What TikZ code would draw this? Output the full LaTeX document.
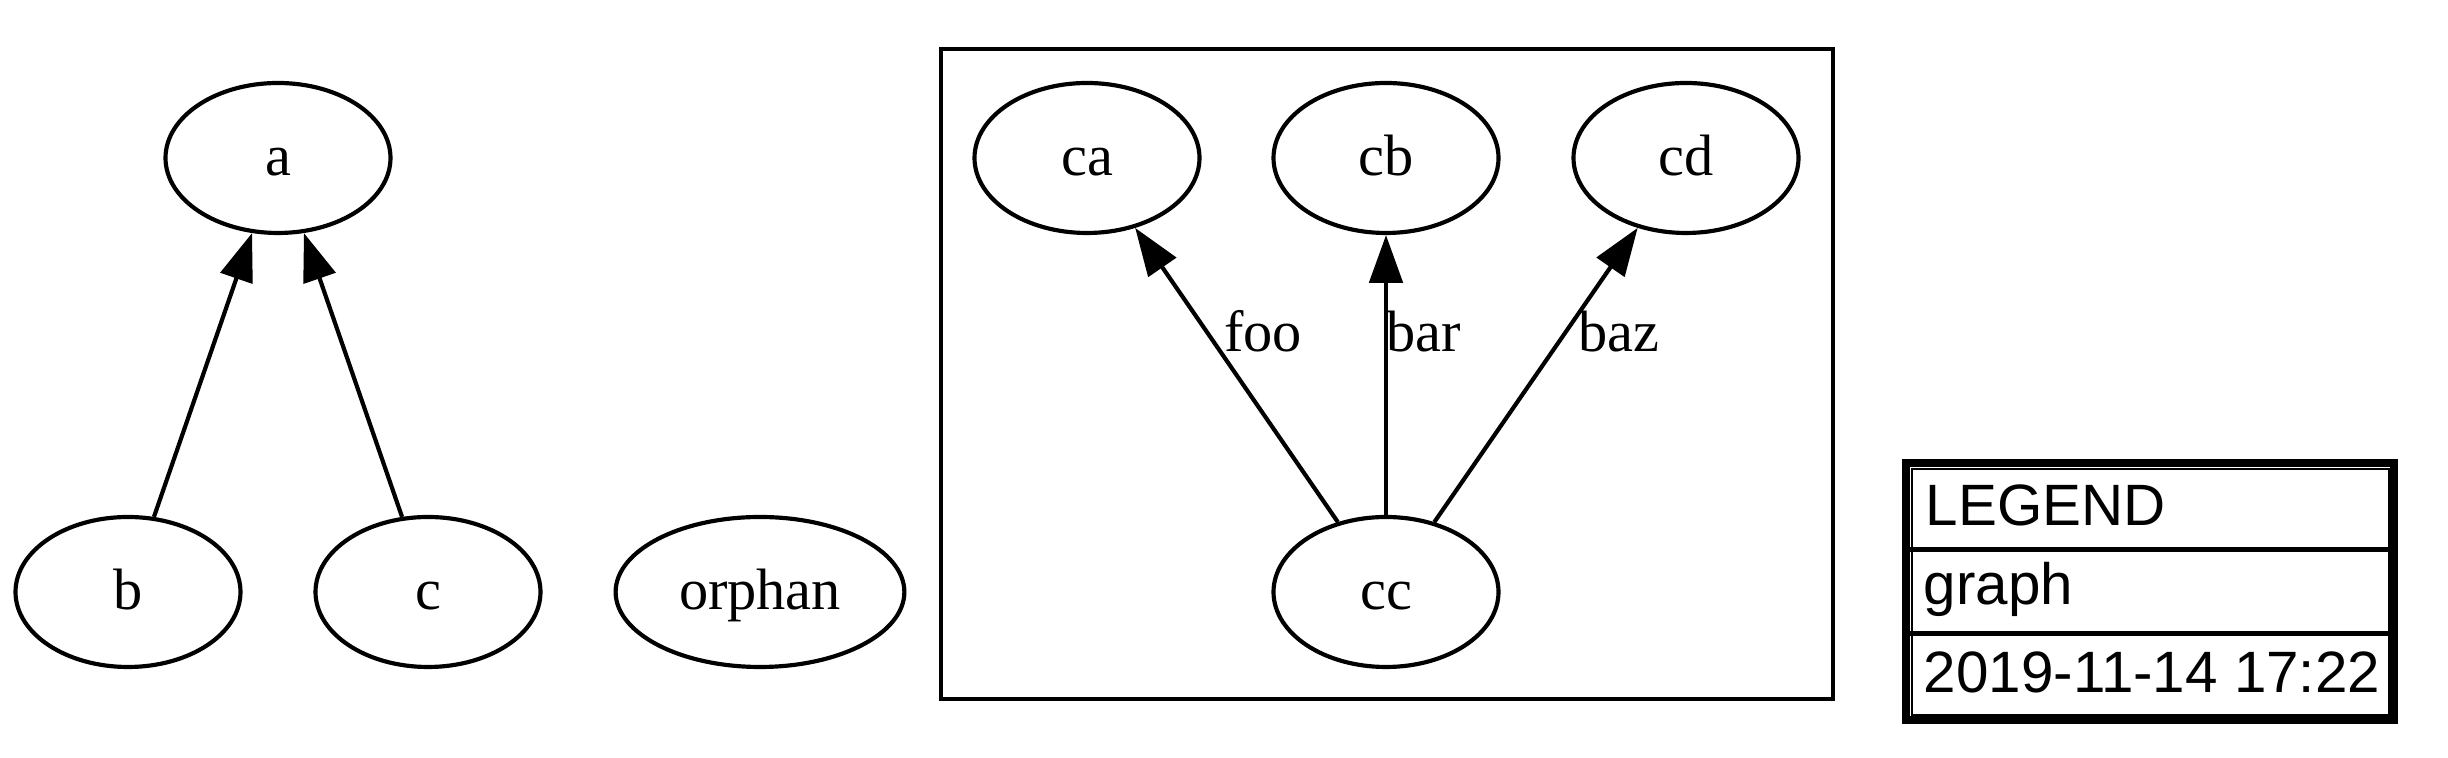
\documentclass[tikz,border=0pt]{standalone}
\usepackage{fontspec}
\setmainfont{Liberation Serif}
\newfontfamily\helv{Liberation Sans}
\usetikzlibrary{arrows.meta,shapes.geometric}
\begin{document}
\begin{tikzpicture}[x=0.24pt,y=-0.24pt,
  gnode/.style={draw, ellipse, line width=1pt, minimum width=54pt, minimum height=36pt,
    inner sep=0pt, text height=10.6pt, text depth=2pt, font=\fontsize{14}{16}\selectfont},
  gedge/.style={line width=1pt, -{Triangle[length=11.5pt,width=8pt]}},
  elabel/.style={font=\fontsize{14}{16}\selectfont, anchor=base, inner sep=0pt},
  legtext/.style={font=\helv\fontsize{14}{16}\selectfont, anchor=base west, inner sep=0pt},
  cluster/.style={draw, line width=1pt},
  legframe/.style={draw, line width=2.1pt},
  legcell/.style={draw, line width=0.35pt},
  legsep/.style={draw, line width=1.1pt}]
\useasboundingbox (0,0) rectangle (2448,758);
% left graph
\node[gnode] (a) at (278,158) {a};
\node[gnode] (b) at (128,592) {b};
\node[gnode] (c) at (428,592) {c};
\node[gnode, minimum width=69.3pt] (orphan) at (760,592) {orphan};
\draw[gedge] (b) -- (a);
\draw[gedge] (c) -- (a);
% cluster
\draw[cluster] (941,49) rectangle (1833,699);
\node[gnode] (ca) at (1087,158) {ca};
\node[gnode] (cb) at (1386,158) {cb};
\node[gnode] (cd) at (1686,158) {cd};
\node[gnode] (cc) at (1386,592) {cc};
\draw[gedge] (cc) -- (ca);
\draw[gedge] (cc) -- (cb);
\draw[gedge] (cc) -- (cd);
\node[elabel] (foo) at (1263,352) {foo};
\node[elabel] (bar) at (1424,352) {bar};
\node[elabel] (baz) at (1619,352) {baz};
% legend
\draw[legframe] (1906,463) rectangle (2394,720);
\draw[legcell] (1912,469) rectangle (2389,715);
\draw[legsep] (1910,549.5) -- (2390,549.5);
\draw[legsep] (1910,633.5) -- (2390,633.5);
\node[legtext] (legend) at (1925,526) {LEGEND};
\node[legtext] (graph) at (1923,605) {graph};
\node[legtext] (date) at (1923,693) {2019-11-14 17:22};
\end{tikzpicture}
\end{document}
